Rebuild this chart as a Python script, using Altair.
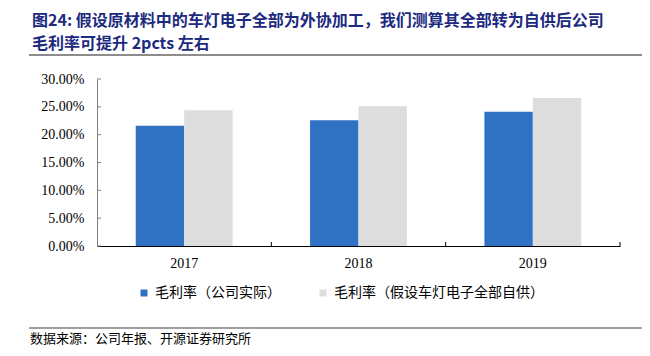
import altair as alt
import pandas as pd

# ---- data ----
years = ["2017", "2018", "2019"]
actual_margin = [0.216, 0.226, 0.241]
assumed_margin = [0.244, 0.251, 0.266]
series = ["毛利率（公司实际）", "毛利率（假设车灯电子全部自供）"]
y_ticks = [0.0, 0.05, 0.10, 0.15, 0.20, 0.25, 0.30]
title_lines = ["图24:  假设原材料中的车灯电子全部为外协加工，我们测算其全部转为自供后公司",
               "毛利率可提升 2pcts 左右"]
source_text = "数据来源：公司年报、开源证券研究所"

colors = ["#2F72C4", "#DDDDDD"]
navy = "#1C2A80"
cjk = "Noto Sans CJK SC"
serif = "Liberation Serif"

W, H = 523, 167

df = pd.DataFrame({
    "year": years * 2,
    "series": [series[0]] * len(years) + [series[1]] * len(years),
    "value": actual_margin + assumed_margin,
})

x_scale = alt.Scale(domain=years, paddingInner=0, paddingOuter=0)
y_scale = alt.Scale(domain=[0, 0.3], nice=False)

x_axis = alt.Axis(title=None, labelAngle=0, ticks=False, tickSize=0,
                  domainColor="#000000", domainWidth=1.2,
                  labelFont=serif, labelFontSize=14, labelColor="#000000",
                  labelPadding=10)
y_axis = alt.Axis(title=None, values=y_ticks, format=".2%", grid=False,
                  ticks=False, tickSize=0, domainColor="#808080",
                  labelFont=serif, labelFontSize=14, labelColor="#000000",
                  labelPadding=13)

bars = alt.Chart(df).mark_bar().encode(
    x=alt.X("year:N", scale=x_scale, sort=years, axis=x_axis),
    xOffset=alt.XOffset("series:N", sort=series,
                        scale=alt.Scale(domain=series, paddingInner=0, paddingOuter=0.8)),
    y=alt.Y("value:Q", scale=y_scale, axis=y_axis),
    fill=alt.Fill("series:N", sort=series,
                  scale=alt.Scale(domain=series, range=colors),
                  legend=alt.Legend(title=None, orient="none", legendX=40, legendY=207,
                                    direction="horizontal", symbolType="square",
                                    symbolSize=49, symbolStrokeWidth=0,
                                    labelFont=cjk, labelFontSize=14, labelColor="#000000",
                                    labelLimit=400, columnPadding=35, labelOffset=4,
                                    padding=0)),
)

ytick_df = pd.DataFrame({"value": y_ticks})
yticks = alt.Chart(ytick_df).mark_rule(color="#808080").encode(
    y=alt.Y("value:Q", scale=y_scale, axis=y_axis),
    x=alt.value(0), x2=alt.value(4),
)

xtick_df = pd.DataFrame({"year": years})
xticks = alt.Chart(xtick_df).mark_rule(color="#000000").encode(
    x=alt.X("year:N", scale=x_scale, sort=years, bandPosition=1, axis=x_axis),
    y=alt.value(H), y2=alt.value(H - 4),
)

one = pd.DataFrame({"t": [0]})

title1 = alt.Chart(pd.DataFrame({"t": [title_lines[0]]})).mark_text(
    font=cjk, fontSize=16, fontWeight="bold", color=navy, align="left", baseline="middle"
).encode(text="t:N", x=alt.value(-65), y=alt.value(-58))

title2 = alt.Chart(pd.DataFrame({"t": [title_lines[1]]})).mark_text(
    font=cjk, fontSize=16, fontWeight="bold", color=navy, align="left", baseline="middle"
).encode(text="t:N", x=alt.value(-65), y=alt.value(-35))

top_line = alt.Chart(one).mark_rule(color="#8C8C8C", strokeWidth=2).encode(
    x=alt.value(-68), x2=alt.value(545), y=alt.value(-24))

bottom_line = alt.Chart(one).mark_rule(color="#404040", strokeWidth=1).encode(
    x=alt.value(-68), x2=alt.value(545), y=alt.value(249))

source = alt.Chart(pd.DataFrame({"t": [source_text]})).mark_text(
    font=cjk, fontSize=13, color="#000000", align="left", baseline="middle"
).encode(text="t:N", x=alt.value(-67), y=alt.value(260))

chart = alt.layer(
    bars, yticks, xticks, title1, title2, top_line, bottom_line, source
).properties(
    width=W, height=H,
    autosize=alt.AutoSizeParams(type="none"),
    padding={"left": 89, "top": 71, "right": 22, "bottom": 102},
    background="white",
).configure_view(stroke=None)

chart.save("out.html", embed_options={"renderer": "svg", "actions": False})
